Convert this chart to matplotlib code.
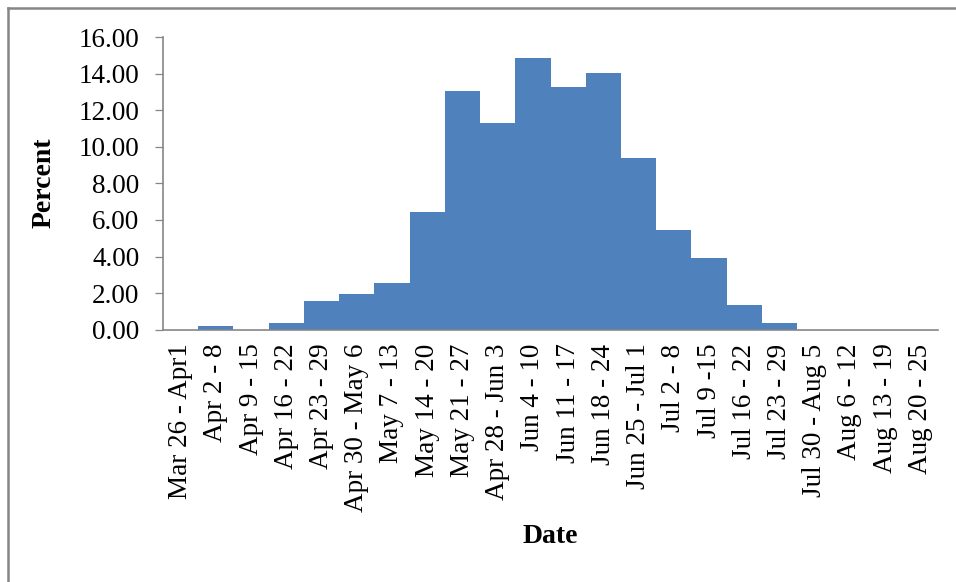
import matplotlib
matplotlib.use("Agg")
import matplotlib.pyplot as plt
from matplotlib.lines import Line2D
from matplotlib.ticker import FormatStrFormatter
import numpy as np

weeks = [
    "Mar 26 - Apr1", "Apr 2 - 8", "Apr 9 - 15", "Apr 16 - 22", "Apr 23 - 29",
    "Apr 30 - May 6", "May 7 - 13", "May 14 - 20", "May 21 - 27",
    "Apr 28 - Jun 3", "Jun 4 - 10", "Jun 11 - 17", "Jun 18 - 24",
    "Jun 25 - Jul 1", "Jul 2 - 8", "Jul 9 -15", "Jul 16 - 22", "Jul 23 - 29",
    "Jul 30 - Aug 5", "Aug 6 - 12", "Aug 13 - 19", "Aug 20 - 25",
]
percent = [
    0.00, 0.19, 0.00, 0.38, 1.55, 1.93, 2.53, 6.45, 13.06, 11.31, 14.83,
    13.25, 14.04, 9.37, 5.45, 3.92, 1.37, 0.38, 0.00, 0.00, 0.00, 0.00,
]
y_ticks = [0, 2, 4, 6, 8, 10, 12, 14, 16]

plt.rcParams["font.family"] = ["Liberation Serif", "DejaVu Serif"]
grey = "#868686"

fig = plt.figure(figsize=(9.56, 5.82), dpi=100)
ax = fig.add_axes([0.1705, 0.4335, 0.8107, 0.5029])

x = np.arange(len(weeks))
ax.bar(x, percent, width=1.0, color="#4F81BD", linewidth=0)

ax.set_xlim(-0.5, len(weeks) - 0.5)
ax.set_ylim(0, 16)
ax.set_yticks(y_ticks)
ax.yaxis.set_major_formatter(FormatStrFormatter("%.2f"))
ax.set_xticks(x)
ax.set_xticklabels(weeks, rotation=90)

ax.tick_params(axis="y", length=6, width=0.9, color=grey, pad=11,
               labelsize=19.5)
ax.tick_params(axis="x", length=0, pad=10, labelsize=19.5)

for side in ("top", "right"):
    ax.spines[side].set_visible(False)
for side in ("left", "bottom"):
    ax.spines[side].set_color(grey)
    ax.spines[side].set_linewidth(1.2)

ax.set_ylabel("Percent", fontsize=20, fontweight="bold")
ax.yaxis.set_label_coords(-0.137, 0.501)
ax.set_xlabel("Date", fontsize=20, fontweight="bold", va="center")
ax.xaxis.set_label_coords(0.5, -0.708)

# frame around the figure (left and top edges only)
fig.add_artist(Line2D([7.5 / 956, 7.5 / 956], [0, 1 - 7.5 / 582],
                      color=grey, lw=1.8, transform=fig.transFigure))
fig.add_artist(Line2D([7.5 / 956, 1], [1 - 7.5 / 582, 1 - 7.5 / 582],
                      color=grey, lw=1.8, transform=fig.transFigure))

fig.savefig("out.png", dpi=100)
